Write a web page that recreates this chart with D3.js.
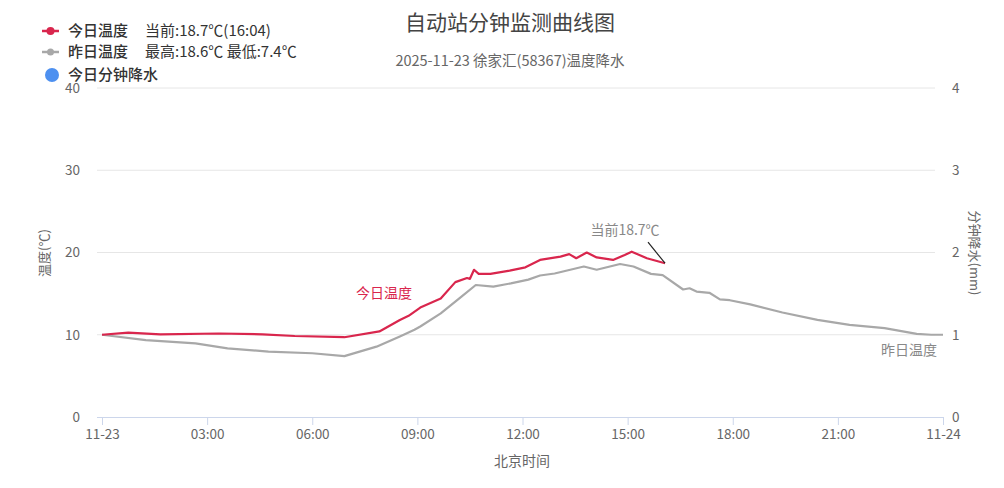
<!DOCTYPE html>
<html>
<head>
<meta charset="utf-8">
<script src="https://cdn.jsdelivr.net/npm/d3@7"></script>
<style>
  body { margin: 0; background: #fff; }
  svg text { font-family: "Noto Sans CJK SC", "Noto Sans", sans-serif; }
</style>
</head>
<body>
<div id="chart"></div>
<script>
var width = 1004, height = 488;
var margin = {top: 88, right: 61, bottom: 71, left: 102};

// today's temperature (red), time "HH:MM"
var todayTimes = ["00:00","00:45","01:40","03:20","04:35","05:30","06:55","07:55","08:30","08:45",
  "09:05","09:40","10:05","10:25","10:30","10:37","10:45","11:05","11:38","12:05",
  "12:30","13:05","13:20","13:32","13:50","14:07","14:35","14:55","15:07","15:33","16:04"];
var todayTemps = [10.0,10.25,10.05,10.15,10.05,9.85,9.7,10.4,11.8,12.3,
  13.3,14.4,16.4,16.9,16.8,17.9,17.4,17.4,17.8,18.2,
  19.1,19.5,19.8,19.3,20.0,19.4,19.1,19.7,20.1,19.3,18.7];

// yesterday's temperature (grey)
var yestTimes = ["00:00","01:15","02:40","03:35","04:45","06:00","06:55","07:50","08:30","08:55",
  "09:05","09:40","10:15","10:40","11:10","11:40","12:10","12:30","12:55","13:45",
  "14:07","14:47","15:10","15:40","16:00","16:35","16:46","16:58","17:20","17:38",
  "17:55","18:30","19:25","20:25","21:20","22:20","23:15","23:40","24:00"];
var yestTemps = [10.0,9.35,8.95,8.35,7.95,7.75,7.4,8.55,9.8,10.6,
  11.0,12.6,14.6,16.05,15.85,16.25,16.7,17.2,17.45,18.3,
  17.9,18.6,18.3,17.4,17.25,15.5,15.65,15.25,15.1,14.3,
  14.2,13.7,12.7,11.8,11.2,10.8,10.1,10.0,10.0];

var xTickMinutes = [0,180,360,540,720,900,1080,1260,1440];
var xTickLabels = ["11-23","03:00","06:00","09:00","12:00","15:00","18:00","21:00","11-24"];
var tempTicks = [0,10,20,30,40];
var rainTicks = [0,1,2,3,4];

function toMin(s) { var p = s.split(":"); return (+p[0]) * 60 + (+p[1]); }

var today = todayTimes.map(function(t, i){ return {m: toMin(t), v: todayTemps[i]}; });
var yest = yestTimes.map(function(t, i){ return {m: toMin(t), v: yestTemps[i]}; });

var svg = d3.select("#chart").append("svg")
  .attr("width", width).attr("height", height);

var x = d3.scaleLinear().domain([0, 1440]).range([margin.left, width - margin.right]);
var y = d3.scaleLinear().domain([0, 40]).range([height - margin.bottom, margin.top]);
var y2 = d3.scaleLinear().domain([0, 4]).range([height - margin.bottom, margin.top]);

// title
svg.append("text").text("自动站分钟监测曲线图")
  .attr("x", 510).attr("y", 30).attr("text-anchor", "middle")
  .attr("font-size", 21).attr("fill", "#444");
svg.append("text").text("2025-11-23 徐家汇(58367)温度降水")
  .attr("x", 510).attr("y", 66).attr("text-anchor", "middle")
  .attr("font-size", 14.5).attr("fill", "#666");

// grid
svg.append("g").selectAll("line").data(tempTicks.slice(1)).enter().append("line")
  .attr("x1", 97).attr("x2", 935)
  .attr("y1", function(d){ return y(d); }).attr("y2", function(d){ return y(d); })
  .attr("stroke", "#e6e6e6").attr("stroke-width", 1);

// x axis
var xAxis = d3.axisBottom(x).tickValues(xTickMinutes)
  .tickFormat(function(d, i){ return xTickLabels[i]; }).tickSize(8).tickPadding(4);
var gx = svg.append("g").attr("transform", "translate(0," + y(0) + ")").call(xAxis);
gx.select(".domain").attr("d", "M97,0.5H943").attr("stroke", "#ccd6eb");
gx.selectAll(".tick line").attr("stroke", "#ccd6eb");
gx.selectAll(".tick text").attr("fill", "#666").attr("font-size", 13.5);

svg.append("text").text("北京时间")
  .attr("x", 522).attr("y", 466).attr("text-anchor", "middle")
  .attr("font-size", 14).attr("fill", "#666");

// left axis
var yAxis = d3.axisLeft(y).tickValues(tempTicks).tickSize(0).tickPadding(22);
var gy = svg.append("g").attr("transform", "translate(" + margin.left + ",0)").call(yAxis);
gy.select(".domain").remove();
gy.selectAll(".tick text").attr("fill", "#666").attr("font-size", 13.5);

svg.append("text").text("温度(℃)")
  .attr("transform", "translate(49,253) rotate(-90)").attr("text-anchor", "middle")
  .attr("font-size", 13).attr("fill", "#666");

// right axis
var yAxis2 = d3.axisRight(y2).tickValues(rainTicks).tickFormat(d3.format("d"))
  .tickSize(0).tickPadding(9);
var gy2 = svg.append("g").attr("transform", "translate(" + (width - margin.right) + ",0)").call(yAxis2);
gy2.select(".domain").remove();
gy2.selectAll(".tick text").attr("fill", "#666").attr("font-size", 13.5);

svg.append("text").text("分钟降水(mm)")
  .attr("transform", "translate(970,253) rotate(90)").attr("text-anchor", "middle")
  .attr("font-size", 13).attr("fill", "#666");

// lines
var line = d3.line().x(function(d){ return x(d.m); }).y(function(d){ return y(d.v); });

svg.append("path").datum(yest).attr("d", line)
  .attr("fill", "none").attr("stroke", "#a8a8a8").attr("stroke-width", 2.2)
  .attr("stroke-linejoin", "round");
svg.append("path").datum(today).attr("d", line)
  .attr("fill", "none").attr("stroke", "#d9264d").attr("stroke-width", 2.2)
  .attr("stroke-linejoin", "round");

// annotations
svg.append("text").text("今日温度")
  .attr("x", 384).attr("y", 298).attr("text-anchor", "middle")
  .attr("font-size", 14).attr("fill", "#d9264d");

var last = today[today.length - 1];
svg.append("line")
  .attr("x1", x(last.m) - 17).attr("y1", y(last.v) - 21)
  .attr("x2", x(last.m)).attr("y2", y(last.v))
  .attr("stroke", "#222").attr("stroke-width", 1.2);
svg.append("text").text("当前18.7℃")
  .attr("x", 625).attr("y", 235).attr("text-anchor", "middle")
  .attr("font-size", 14).attr("fill", "#888");

svg.append("text").text("昨日温度")
  .attr("x", 909).attr("y", 355).attr("text-anchor", "middle")
  .attr("font-size", 14).attr("fill", "#888");

// legend
var legend = svg.append("g");
legend.append("line").attr("x1", 42).attr("x2", 59).attr("y1", 31).attr("y2", 31)
  .attr("stroke", "#d9264d").attr("stroke-width", 2.5);
legend.append("circle").attr("cx", 50.5).attr("cy", 31).attr("r", 4).attr("fill", "#d9264d");
legend.append("text").text("今日温度").attr("x", 68).attr("y", 36)
  .attr("font-size", 15).attr("fill", "#333").attr("font-weight", 500);
legend.append("text").text("当前:18.7℃(16:04)").attr("x", 145).attr("y", 36)
  .attr("font-size", 15).attr("fill", "#333");

legend.append("line").attr("x1", 42).attr("x2", 59).attr("y1", 52).attr("y2", 52)
  .attr("stroke", "#a8a8a8").attr("stroke-width", 2.5);
legend.append("circle").attr("cx", 50.5).attr("cy", 52).attr("r", 3.5).attr("fill", "#a8a8a8");
legend.append("text").text("昨日温度").attr("x", 68).attr("y", 57)
  .attr("font-size", 15).attr("fill", "#333").attr("font-weight", 500);
legend.append("text").text("最高:18.6℃ 最低:7.4℃").attr("x", 145).attr("y", 57)
  .attr("font-size", 15).attr("fill", "#333");

legend.append("circle").attr("cx", 52).attr("cy", 75).attr("r", 7).attr("fill", "#4d90f0");
legend.append("text").text("今日分钟降水").attr("x", 68).attr("y", 80)
  .attr("font-size", 15).attr("fill", "#333").attr("font-weight", 500);
</script>
</body>
</html>
